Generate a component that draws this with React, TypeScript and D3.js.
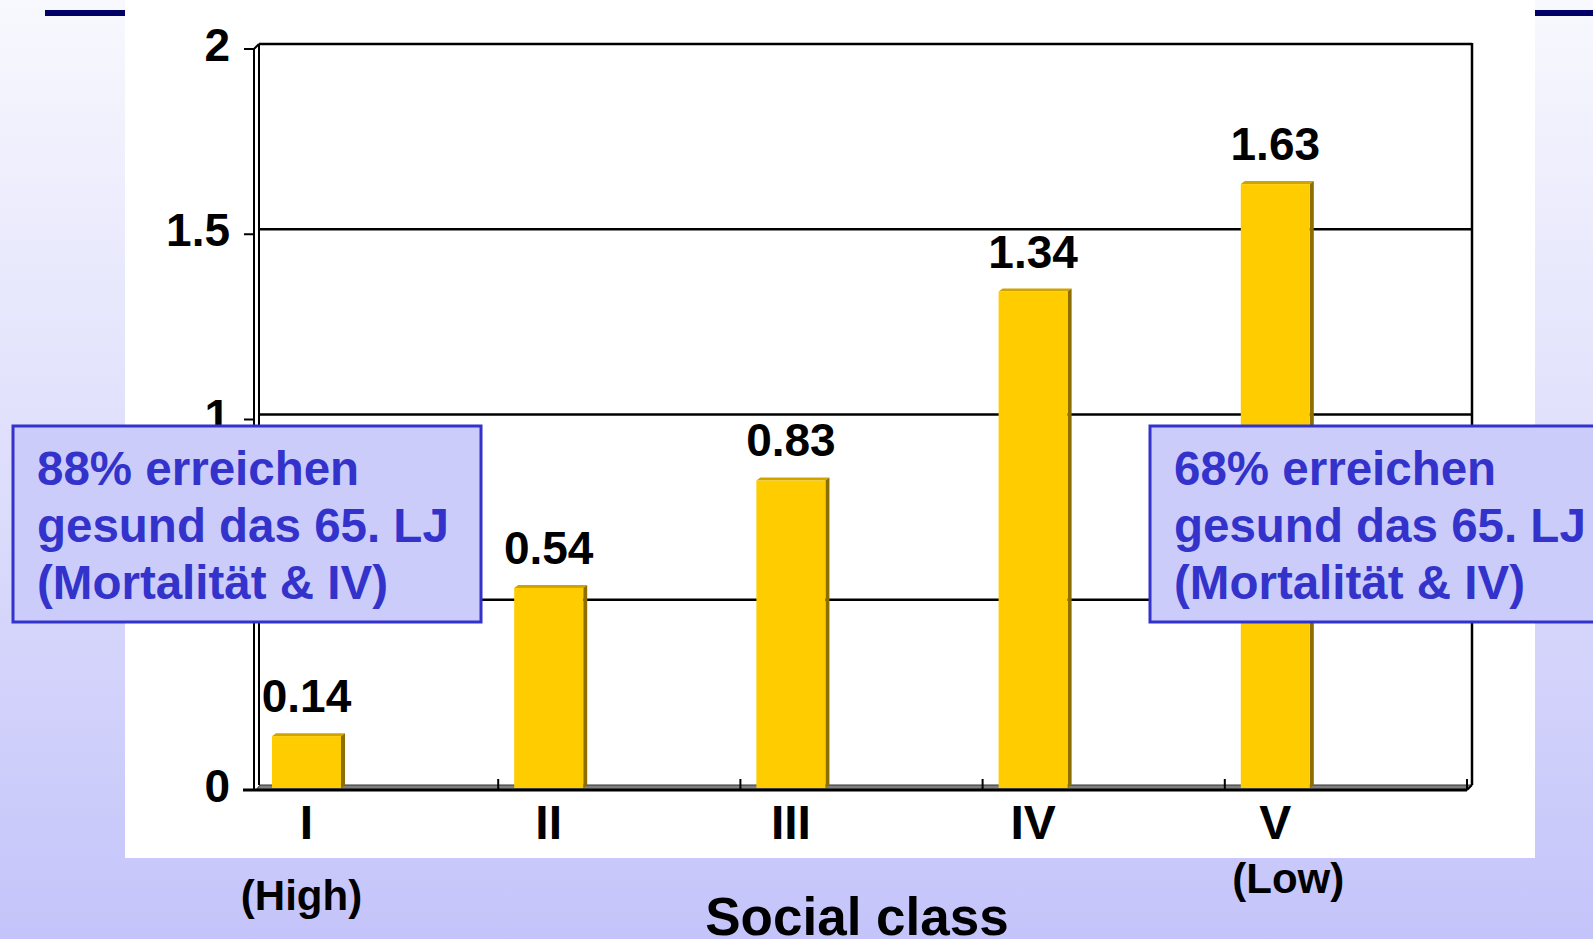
import * as d3 from "d3";

const classes = ["I", "II", "III", "IV", "V"];
const values = [0.14, 0.54, 0.83, 1.34, 1.63];
const yTicks = [0, 0.5, 1, 1.5, 2];
const leftNote = ["88% erreichen", "gesund das 65. LJ", "(Mortalität & IV)"];
const rightNote = ["68% erreichen", "gesund das 65. LJ", "(Mortalität & IV)"];
const xTitle = "Social class";
const highLabel = "(High)";
const lowLabel = "(Low)";

const W = 1593;
const H = 939;
const FONT = "'Liberation Sans', Arial, sans-serif";
const DEPTH_X = 5;
const DEPTH_Y = 5;

export default function App() {
  // back wall scale, the front axis sits DEPTH_X left / DEPTH_Y lower
  const y = d3.scaleLinear().domain([0, 2]).range([785, 44]);
  const x = d3.scaleBand<string>().domain(classes).range([256, 1467]);
  const bw = x.bandwidth();
  const barW = bw * 0.285;
  const barOff = bw * 0.066;
  const backL = 256 + 3;
  const backR = 1467 + DEPTH_X;
  const frontL = 254;
  const yb = (v: number) => y(v) + 3; // bar face baseline sits between walls

  const barCx = (c: string) => (x(c) as number) + barOff + barW / 2;

  return (
    <svg
      width={W}
      height={H}
      style={{ position: "absolute", left: 0, top: 0, display: "block" }}
      fontFamily={FONT}
    >
      <defs>
        <linearGradient id="bg" x1="0" y1="0" x2="0" y2="1">
          <stop offset="0" stopColor="#f8f8fe" />
          <stop offset="1" stopColor="#c4c4fa" />
        </linearGradient>
      </defs>
      <rect x={0} y={0} width={W} height={H} fill="url(#bg)" />
      <rect x={45} y={10} width={80} height={6} fill="#000066" />
      <rect x={1535} y={10} width={58} height={6} fill="#000066" />
      <rect x={125} y={0} width={1410} height={858} fill="#ffffff" />

      {/* floor */}
      <polygon
        points={`${256},${y(0) + DEPTH_Y} ${backL + 1},${y(0)} ${backR},${y(0)} ${1467},${y(0) + DEPTH_Y}`}
        fill="#808080"
        stroke="#333"
        strokeWidth={1}
      />

      {/* back wall grid */}
      {yTicks.slice(1).map((t) => (
        <line key={t} x1={backL} x2={backR} y1={y(t)} y2={y(t)} stroke="#000" strokeWidth={2.5} />
      ))}
      <line x1={backR} x2={backR} y1={y(2) - 1} y2={y(0)} stroke="#000" strokeWidth={2.5} />
      <line x1={backL} x2={backL} y1={y(2)} y2={y(0)} stroke="#000" strokeWidth={2} />

      {/* front y axis */}
      <line x1={frontL} x2={frontL} y1={y(2) + DEPTH_Y} y2={y(0) + DEPTH_Y} stroke="#000" strokeWidth={2} />
      <line x1={frontL} x2={backL} y1={y(2) + DEPTH_Y} y2={y(2)} stroke="#000" strokeWidth={2} />
      {yTicks.map((t) => (
        <g key={t}>
          <line x1={244} x2={frontL} y1={y(t) + DEPTH_Y} y2={y(t) + DEPTH_Y} stroke="#000" strokeWidth={2} />
          <text
            x={230}
            y={y(t) + DEPTH_Y + 12}
            textAnchor="end"
            fontSize={46}
            fontWeight="bold"
            fill="#000"
          >
            {t}
          </text>
        </g>
      ))}

      {/* front x axis */}
      <line x1={243} x2={1467} y1={y(0) + DEPTH_Y} y2={y(0) + DEPTH_Y} stroke="#000" strokeWidth={3} />
      <line x1={1467} x2={backR} y1={y(0) + DEPTH_Y} y2={y(0)} stroke="#000" strokeWidth={2} />
      {classes.map((c) => {
        const bx = (x(c) as number) + bw;
        return (
          <line key={c} x1={bx} x2={bx} y1={y(0) - 6} y2={y(0) + DEPTH_Y} stroke="#000" strokeWidth={2} />
        );
      })}

      {/* bars */}
      {classes.map((c, i) => {
        const v = values[i];
        const bx = (x(c) as number) + barOff;
        const top = yb(v);
        const base = yb(0);
        return (
          <g key={c}>
            <polygon
              points={`${bx},${top} ${bx + 4},${top - 3} ${bx + barW + 4},${top - 3} ${bx + barW},${top}`}
              fill="#d0a400"
            />
            <polygon
              points={`${bx + barW},${top} ${bx + barW + 4},${top - 3} ${bx + barW + 4},${base - 3} ${bx + barW},${base}`}
              fill="#8c6f00"
            />
            <rect x={bx} y={top} width={barW} height={base - top} fill="#ffcc00" />
            <text
              x={barCx(c)}
              y={top - 24}
              textAnchor="middle"
              fontSize={46}
              fontWeight="bold"
              fill="#000"
            >
              {v.toFixed(2)}
            </text>
            <text
              x={barCx(c)}
              y={839}
              textAnchor="middle"
              fontSize={48}
              fontWeight="bold"
              fill="#000"
            >
              {c}
            </text>
          </g>
        );
      })}

      <text x={barCx("I") - 5} y={910} textAnchor="middle" fontSize={42} fontWeight="bold" fill="#000">
        {highLabel}
      </text>
      <text x={barCx("V") + 13} y={893} textAnchor="middle" fontSize={42} fontWeight="bold" fill="#000">
        {lowLabel}
      </text>
      <text x={857} y={935} textAnchor="middle" fontSize={53} fontWeight="bold" fill="#000">
        {xTitle}
      </text>

      {/* note boxes */}
      {[
        { lines: leftNote, bx: 13, bwid: 468 },
        { lines: rightNote, bx: 1150, bwid: 460 },
      ].map((b, k) => (
        <g key={k}>
          <rect x={b.bx} y={426} width={b.bwid} height={196} fill="#ccccfa" stroke="#3333cc" strokeWidth={3} />
          {b.lines.map((l, j) => (
            <text
              key={j}
              x={b.bx + 24}
              y={485 + j * 57}
              fontSize={47.5}
              fontWeight="bold"
              fill="#3333cc"
            >
              {l}
            </text>
          ))}
        </g>
      ))}
    </svg>
  );
}
